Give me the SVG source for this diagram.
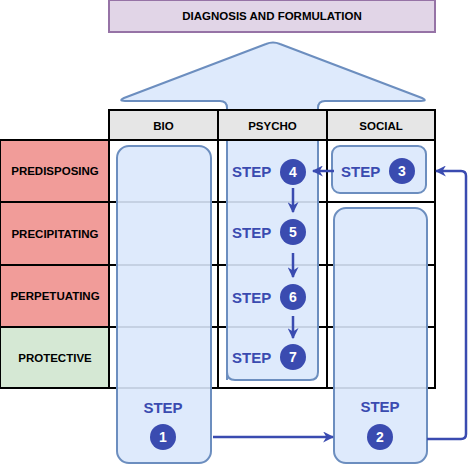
<svg xmlns="http://www.w3.org/2000/svg" width="474" height="465" viewBox="0 0 474 465">
<defs>
<marker id="ah" viewBox="0 0 10 10" refX="9" refY="5" markerWidth="11" markerHeight="11" markerUnits="userSpaceOnUse" orient="auto">
<path d="M0,0 L10,5 L0,10 L3,5 Z" fill="#3a4bb0"/>
</marker>
<style>
.cell{stroke:#000;stroke-width:2}
.hdr{fill:#e6e6e6}
.red{fill:#f19c99}
.grn{fill:#d5e8d4}
.wht{fill:#fff}
.lbl{font-family:"Liberation Sans",Arial,sans-serif;font-weight:bold;font-size:11.5px;fill:#000;text-anchor:middle;dominant-baseline:central}
.blue{fill:#dae8fc;fill-opacity:0.9;stroke:#6c8ebf;stroke-width:2}
.step{font-family:"Liberation Sans",Arial,sans-serif;font-weight:bold;font-size:15px;fill:#3a4bb0;dominant-baseline:central}
.dot{fill:#3a4bb0}
.num{font-family:"Liberation Sans",Arial,sans-serif;font-weight:bold;font-size:14px;fill:#fff;text-anchor:middle;dominant-baseline:central}
.con{fill:none;stroke:#3a4bb0;stroke-width:2.5;marker-end:url(#ah)}
</style>
</defs>
<rect width="474" height="465" fill="#fff"/>
<g id="diagnosis">
<rect x="109" y="0" width="326" height="32" fill="#e1d5e7" stroke="#9673a6" stroke-width="2"/>
<text class="lbl" x="272" y="16" font-size="11">DIAGNOSIS AND FORMULATION</text>
</g>
<g id="table">
<rect class="cell wht" x="109" y="140" width="109" height="62"/>
<rect class="cell wht" x="218" y="140" width="109" height="62"/>
<rect class="cell wht" x="327" y="140" width="108" height="62"/>
<rect class="cell wht" x="109" y="202" width="109" height="63"/>
<rect class="cell wht" x="218" y="202" width="109" height="63"/>
<rect class="cell wht" x="327" y="202" width="108" height="63"/>
<rect class="cell wht" x="109" y="265" width="109" height="62"/>
<rect class="cell wht" x="218" y="265" width="109" height="62"/>
<rect class="cell wht" x="327" y="265" width="108" height="62"/>
<rect class="cell wht" x="109" y="327" width="109" height="61"/>
<rect class="cell wht" x="218" y="327" width="109" height="61"/>
<rect class="cell wht" x="327" y="327" width="108" height="61"/>
</g>
<g id="arrow-up">
<path class="blue" d="M227,380 V108 Q227,101 220,101 H125 Q118,101 124,98 L266,44 Q273,41 280,44 L422,98 Q428,101 421,101 H325 Q318,101 318,108 V372 Q318,380 310,380 H235 Q227,380 227,372 Z"/>
</g>
<g id="headers">
<rect class="cell hdr" x="109" y="110" width="109" height="30"/>
<text class="lbl" x="163.5" y="125.5">BIO</text>
<rect class="cell hdr" x="218" y="110" width="109" height="30"/>
<text class="lbl" x="272.5" y="125.5">PSYCHO</text>
<rect class="cell hdr" x="327" y="110" width="108" height="30"/>
<text class="lbl" x="381" y="125.5">SOCIAL</text>
</g>
<g id="rows">
<rect class="cell red" x="0" y="140" width="109" height="62"/>
<text class="lbl" x="55" y="171">PREDISPOSING</text>
<rect class="cell red" x="0" y="202" width="109" height="63"/>
<text class="lbl" x="55" y="233.5">PRECIPITATING</text>
<rect class="cell red" x="0" y="265" width="109" height="62"/>
<text class="lbl" x="55" y="296">PERPETUATING</text>
<rect class="cell grn" x="0" y="327" width="109" height="61"/>
<text class="lbl" x="55" y="357.5">PROTECTIVE</text>
</g>
<g id="step1">
<rect class="blue" x="117" y="146" width="94" height="317" rx="12"/>
<text class="step" x="163" y="407" text-anchor="middle">STEP</text>
<circle class="dot" cx="163" cy="437" r="13"/>
<text class="num" x="163" y="437">1</text>
</g>
<g id="step2">
<rect class="blue" x="334" y="208" width="93" height="255" rx="12"/>
<text class="step" x="380" y="406" text-anchor="middle">STEP</text>
<circle class="dot" cx="380" cy="437" r="13"/>
<text class="num" x="380" y="437">2</text>
</g>
<g id="step3">
<rect class="blue" x="332" y="146" width="94" height="47" rx="8"/>
<text class="step" x="341" y="171">STEP</text>
<circle class="dot" cx="402" cy="171" r="13"/>
<text class="num" x="402" y="171">3</text>
</g>
<g id="step4">
<text class="step" x="232" y="171">STEP</text>
<circle class="dot" cx="293" cy="172" r="13"/>
<text class="num" x="293" y="172">4</text>
</g>
<g id="step5">
<text class="step" x="232" y="232">STEP</text>
<circle class="dot" cx="293" cy="232" r="13"/>
<text class="num" x="293" y="232">5</text>
</g>
<g id="step6">
<text class="step" x="232" y="297">STEP</text>
<circle class="dot" cx="293" cy="297" r="13"/>
<text class="num" x="293" y="297">6</text>
</g>
<g id="step7">
<text class="step" x="232" y="357">STEP</text>
<circle class="dot" cx="293" cy="357" r="13"/>
<text class="num" x="293" y="357">7</text>
</g>
<g id="connectors">
<path class="con" d="M213,437 H333"/>
<path class="con" d="M427,439 H461 Q466,439 466,434 V176 Q466,171 461,171 H436"/>
<path class="con" d="M334,171 H313"/>
<path class="con" d="M293,188 V212"/>
<path class="con" d="M293,253 V277"/>
<path class="con" d="M293,316 V338"/>
</g>
</svg>
